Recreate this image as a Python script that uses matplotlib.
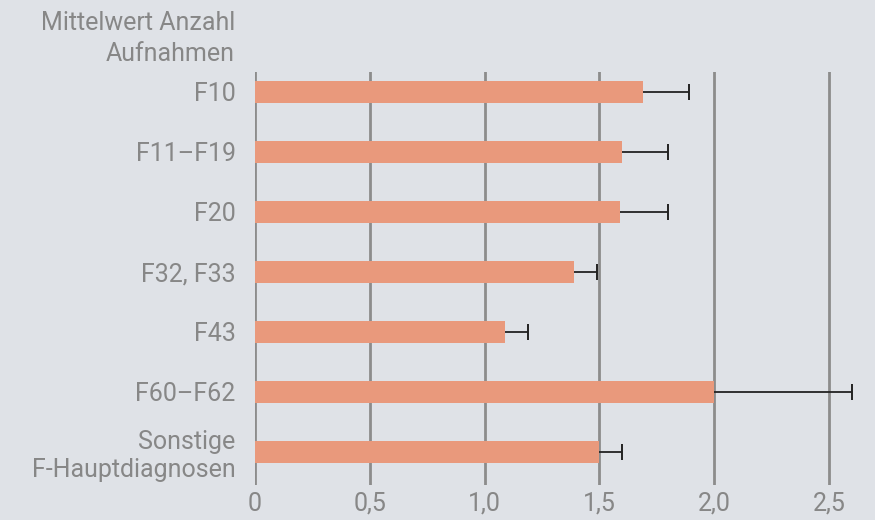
import matplotlib
matplotlib.use("Agg")
import matplotlib.pyplot as plt
from matplotlib import font_manager

names = {f.name for f in font_manager.fontManager.ttflist}
fam = "Liberation Sans Narrow" if "Liberation Sans Narrow" in names else "Roboto"
plt.rcParams['font.family'] = [fam, 'DejaVu Sans']

categories = ["F10", "F11–F19", "F20", "F32, F33", "F43", "F60–F62", "Sonstige\nF-Hauptdiagnosen"]
means = [1.69, 1.60, 1.59, 1.39, 1.09, 2.00, 1.50]
errors = [0.20, 0.20, 0.21, 0.10, 0.10, 0.60, 0.10]
xticks = [0, 0.5, 1.0, 1.5, 2.0, 2.5]
xticklabels = ["0", "0,5", "1,0", "1,5", "2,0", "2,5"]
title = "Mittelwert Anzahl\nAufnahmen"

bg = "#dfe2e7"
bar_color = "#e9997c"
grid_color = "#8c8c8c"
text_color = "#878787"

fig = plt.figure(figsize=(8.75, 5.2), dpi=100, facecolor=bg)
ax = fig.add_axes([0.2914, 0.0673, 0.6953, 0.7942], facecolor=bg)

y = list(range(len(categories)))
ax.set_axisbelow(True)
for xt in xticks:
    ax.axvline(xt, color=grid_color, lw=2, zorder=0)
ax.barh(y, means, height=0.37, color=bar_color, zorder=2)
ends = [m + e for m, e in zip(means, errors)]
ax.hlines(y, means, ends, color='#222222', lw=1.3, zorder=3)
ax.plot(ends, y, ls='none', marker='|', ms=12, mew=1.4, color='#222222', zorder=3)

ax.set_xlim(0, 2.65)
ax.set_ylim(6.55, -0.33)
ax.set_yticks(y)
ax.set_yticklabels(categories, fontsize=18, color=text_color)
ax.set_xticks(xticks)
ax.set_xticklabels(xticklabels, fontsize=18, color=text_color)
ax.tick_params(length=0, pad=14, axis='y')
ax.tick_params(length=0, pad=5, axis='x')
for s in ax.spines.values():
    s.set_visible(False)

fig.text(235/875, 1 - 11/520, title, ha='right', va='top', fontsize=18, color=text_color,
         linespacing=1.35)

fig.savefig("out.png", dpi=100, facecolor=bg)
